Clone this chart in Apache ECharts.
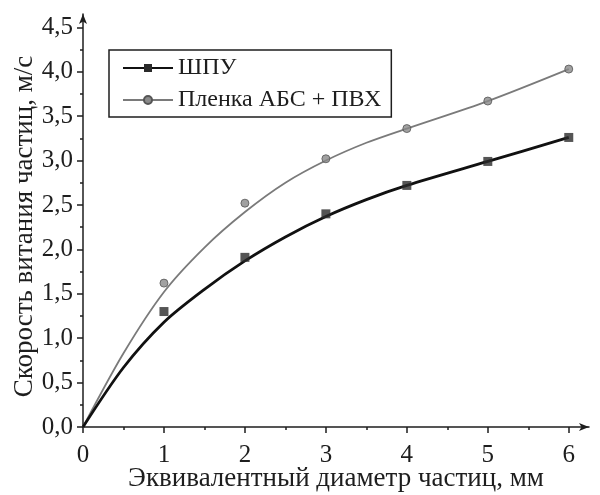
<!DOCTYPE html>
<html>
<head>
<meta charset="utf-8">
<script src="https://cdn.jsdelivr.net/npm/echarts@6/dist/echarts.min.js"></script>
<style>
  html, body { margin: 0; padding: 0; background: #fff; }
  #chart { width: 600px; height: 495px; }
</style>
</head>
<body>
<div id="chart"></div>
<script>
// measured points (markers)
const xPoints = [1, 2, 3, 4, 5, 6];
const shpuPoints = [1.30, 1.91, 2.40, 2.72, 2.99, 3.26];
const plenkaPoints = [1.62, 2.52, 3.02, 3.36, 3.67, 4.03];

// fitted curves
const xFit = [0, 0.5, 1, 1.5, 2, 2.5, 3, 3.5, 4, 5, 6];
const shpuFit = [0, 0.67, 1.18, 1.55, 1.87, 2.14, 2.37, 2.56, 2.72, 2.99, 3.26];
const plenkaFit = [0, 0.83, 1.52, 2.02, 2.42, 2.75, 3.0, 3.2, 3.36, 3.67, 4.03];

// tick labels
const xTicks = [0, 1, 2, 3, 4, 5, 6];
const xMinor = [0.5, 1.5, 2.5, 3.5, 4.5, 5.5];
const yTicks = [0, 0.5, 1, 1.5, 2, 2.5, 3, 3.5, 4, 4.5];
const yMinor = [0.25, 0.75, 1.25, 1.75, 2.25, 2.75, 3.25, 3.75, 4.25];

const seriesNames = ["ШПУ", "Пленка АБС + ПВХ"];
const xTitle = "Эквивалентный диаметр частиц, мм";
const yTitle = "Скорость витания частиц, м/с";

const font = "Liberation Serif";
const ink = "#1e1e1e";

const pairs = (xs, ys) => xs.map((x, i) => [x, ys[i]]);

const chart = echarts.init(document.getElementById("chart"));

const axisLineStyle = { color: ink, width: 1.5 };

const option = {
  animation: false,
  backgroundColor: "#fff",
  grid: {
    left: 83,
    right: 11,
    top: 14,
    bottom: 68,
    outerBoundsMode: "none",
    containLabel: false,
  },
  legend: {
    data: seriesNames,
    orient: "vertical",
    left: 109,
    top: 50,
    padding: [6, 10, 5, 13],
    itemGap: 8,
    itemWidth: 50,
    itemHeight: 10,
    borderColor: ink,
    borderWidth: 1.5,
    textStyle: {
      fontFamily: font,
      fontSize: 24,
      color: ink,
    },
  },
  xAxis: [
    {
      type: "value",
      min: 0,
      max: 6.25,
      name: xTitle,
      nameLocation: "middle",
      nameGap: 38,
      nameMoveOverlap: false,
      nameTextStyle: { fontFamily: font, fontSize: 27, color: ink },
      axisLine: {
        lineStyle: axisLineStyle,
        symbol: ["none", "arrow"],
        symbolSize: [6, 10],
      },
      axisTick: { customValues: xTicks, length: 6, lineStyle: axisLineStyle },
      axisLabel: {
        customValues: xTicks,
        fontFamily: font,
        fontSize: 25,
        color: ink,
        margin: 16,
      },
      splitLine: { show: false },
    },
    {
      type: "value",
      min: 0,
      max: 6.25,
      position: "bottom",
      axisLine: { show: false },
      axisTick: { customValues: xMinor, length: 3, lineStyle: axisLineStyle },
      axisLabel: { show: false },
      splitLine: { show: false },
    },
  ],
  yAxis: [
    {
      type: "value",
      min: 0,
      max: 4.65,
      name: yTitle,
      nameLocation: "middle",
      nameGap: 45,
      nameMoveOverlap: false,
      nameTextStyle: {
        fontFamily: font,
        fontSize: 27,
        color: ink,
        padding: [0, 12, 0, 0],
      },
      axisLine: {
        show: true,
        lineStyle: axisLineStyle,
        symbol: ["none", "arrow"],
        symbolSize: [6, 10],
      },
      axisTick: {
        show: true,
        customValues: yTicks,
        length: 6,
        lineStyle: axisLineStyle,
      },
      axisLabel: {
        customValues: yTicks,
        fontFamily: font,
        fontSize: 25,
        color: ink,
        margin: 10,
        formatter: (v) => v.toFixed(1).replace(".", ","),
      },
      splitLine: { show: false },
    },
    {
      type: "value",
      min: 0,
      max: 4.65,
      position: "left",
      axisLine: { show: false },
      axisTick: {
        show: true,
        customValues: yMinor,
        length: 3,
        lineStyle: axisLineStyle,
      },
      axisLabel: { show: false },
      splitLine: { show: false },
    },
  ],
  series: [
    {
      name: seriesNames[0],
      type: "line",
      data: pairs(xFit, shpuFit),
      smooth: 0.3,
      showSymbol: false,
      symbol: "rect",
      symbolSize: 9,
      itemStyle: { color: "#2a2a2a" },
      lineStyle: { color: "#111", width: 2.8 },
      z: 3,
    },
    {
      name: seriesNames[1],
      type: "line",
      data: pairs(xFit, plenkaFit),
      smooth: 0.3,
      showSymbol: false,
      symbol: "circle",
      symbolSize: 8,
      itemStyle: { color: "#8a8a8a", borderColor: "#555", borderWidth: 1 },
      lineStyle: { color: "#7a7a7a", width: 1.8 },
      z: 2,
    },
    {
      name: "ШПУ точки",
      type: "scatter",
      data: pairs(xPoints, shpuPoints),
      symbol: "rect",
      symbolSize: 9,
      itemStyle: { color: "#2a2a2a" },
      z: 4,
    },
    {
      name: "Пленка точки",
      type: "scatter",
      data: pairs(xPoints, plenkaPoints),
      symbol: "circle",
      symbolSize: 8,
      itemStyle: { color: "#8a8a8a", borderColor: "#555", borderWidth: 1 },
      z: 4,
    },
  ],
};

chart.setOption(option);
</script>
</body>
</html>
